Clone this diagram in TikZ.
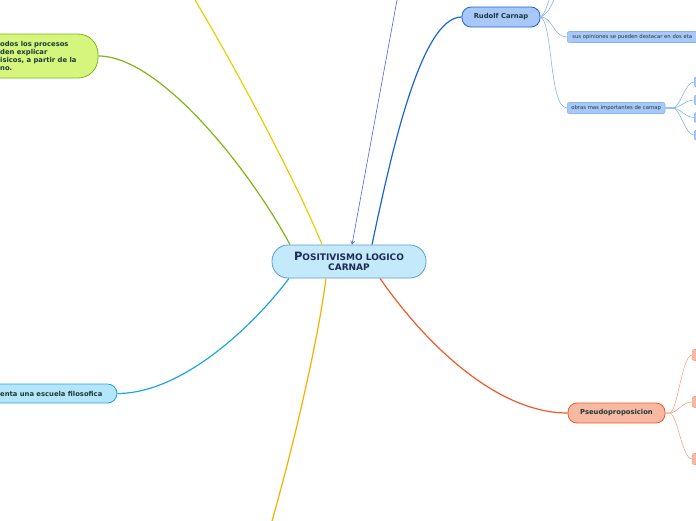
\documentclass[tikz,border=0pt]{standalone}
\usepackage{fontspec}
\setmainfont{DejaVu Sans}
\usetikzlibrary{arrows.meta}

\definecolor{rootfill}{HTML}{C4E9FB}
\definecolor{rootline}{HTML}{5A9BD5}
\definecolor{navy}{HTML}{1B2B55}
\definecolor{txtdark}{HTML}{1C3A36}
\definecolor{greenfill}{HTML}{D5F57D}
\definecolor{greenline}{HTML}{7DB712}
\definecolor{cyanfill}{HTML}{B4E6FB}
\definecolor{cyanline}{HTML}{1BA6E0}
\definecolor{yellowline}{HTML}{E8D000}
\definecolor{orangeline}{HTML}{F5B000}
\definecolor{redline}{HTML}{F05A28}
\definecolor{bluefill}{HTML}{A7C8F8}
\definecolor{blueline}{HTML}{1E63D6}
\definecolor{bluetwig}{HTML}{88B2F0}
\definecolor{arrowblue}{HTML}{4A64F0}
\definecolor{salmonfill}{HTML}{F8B9A2}
\definecolor{salmonline}{HTML}{EE5A2A}
\definecolor{salmontwig}{HTML}{F7A588}

\newcommand{\rootinitial}{{\fontsize{11.5}{10.5}\selectfont P}}

\begin{document}
\begin{tikzpicture}[x=1pt,y=-1pt,
    every node/.style={font=\bfseries\fontsize{6.8}{8}\selectfont,text=txtdark},
    topic/.style={draw,rounded corners=9pt,minimum height=20pt,line width=0.8pt},
    leaf/.style={draw,rounded corners=2pt,minimum height=11pt,inner xsep=4pt,inner ysep=1pt,
      line width=0.6pt,font=\fontsize{5.3}{6}\selectfont},
    branch/.style={line width=1.2pt},
    twig/.style={line width=0.6pt}]
  \useasboundingbox (0,0) rectangle (696,520);
  \clip (0,0) rectangle (696,520);

  % Nodes
  \node[draw=rootline,fill=rootfill,rounded corners=16pt,line width=0.8pt,minimum width=154pt,
    minimum height=33pt,align=center,text=navy,inner sep=0pt,
    font=\bfseries\fontsize{9}{10.5}\selectfont] (root) at (349,261.5)
    {\rootinitial OSITIVISMO LOGICO\\CARNAP};

  \node[draw=greenline,fill=greenfill,rounded corners=20pt,line width=0.8pt,
    minimum width=170pt,minimum height=44pt] (greenbox) at (13,56) {};
  \node[anchor=west,align=left,inner sep=0pt] (greentext) at (0,55.5)
    {odos los procesos\\den explicar\\isicos, a partir de la\\no.};

  \node[draw=cyanline,fill=cyanfill,rounded corners=9.5pt,line width=0.8pt,
    minimum width=190pt,minimum height=19pt] (cyanbox) at (22,393.5) {};
  \node[anchor=west,inner sep=0pt] (cyantext) at (0,393.5) {enta una escuela filosofica};

  \node[topic,draw=blueline,fill=bluefill,minimum width=78pt] (rudolf) at (501,17) {Rudolf Carnap};
  \node[leaf,draw=bluetwig,fill=bluefill,anchor=west,inner xsep=5pt] (opin) at (567,37)
    {sus opiniones se pueden destacar en dos eta};
  \node[leaf,draw=bluetwig,fill=bluefill,anchor=west] (obras) at (567,108)
    {obras mas importantes de carnap};
  \foreach \y [count=\i] in {82,100,117.5,135}
    \node[leaf,draw=bluetwig,fill=bluefill,anchor=west,minimum width=16pt,minimum height=10pt] (work\i) at (694,\y) {};

  \node[topic,draw=salmonline,fill=salmonfill,minimum width=97pt] (pseudo) at (616.5,413) {Pseudoproposicion};
  \foreach \y [count=\i] in {355,402,459}
    \node[leaf,draw=salmontwig,fill=salmonfill,anchor=west,minimum width=16pt,minimum height=11pt] (claim\i) at (692,\y) {};

  % Free ends at the edges
  \coordinate (yellowend) at (195,0);
  \coordinate (orangeend) at (272,521);
  \coordinate (arrowstart) at (397,0);
  \coordinate (upA) at (549,0);
  \coordinate (upB) at (554,0);

  % Branches from the root
  \draw[branch,greenline] ([xshift=-59pt]root.north) .. controls (250,170) and (160,56) .. (greenbox.east);
  \draw[branch,yellowline] ([xshift=-27pt]root.north) .. controls (300,190) and (240,75) .. (yellowend);
  \draw[branch,blueline] ([xshift=23pt]root.north) .. controls (390,160) and (420,17) .. (rudolf.west);
  \draw[branch,cyanline] ([xshift=-60pt]root.south) .. controls (250,330) and (180,393.5) .. (cyanbox.east);
  \draw[branch,orangeline] ([xshift=-23pt]root.south) .. controls (318,340) and (295,440) .. (orangeend);
  \draw[branch,redline] ([xshift=31pt]root.south) .. controls (430,350) and (500,413) .. (pseudo.west);
  \draw[twig,arrowblue,-{Straight Barb[length=3pt,width=4pt]}] (arrowstart) -- ([xshift=3pt]root.north);

  % Sub-branches
  \draw[twig,bluetwig] (rudolf.east) .. controls (545,14) and (547,6) .. (upA);
  \draw[twig,bluetwig] (rudolf.east) .. controls (548,14) and (551,6) .. (upB);
  \draw[twig,bluetwig] (rudolf.east) .. controls (553,17) and (553,37) .. (opin.west);
  \draw[twig,bluetwig] (rudolf.east) .. controls (553,22) and (549,108) .. (obras.west);
  \foreach \i in {1,...,4}
    \draw[twig,bluetwig] (obras.east) -- ++(7,0) .. controls +(8,0) and +(-9,0) .. (work\i.west);
  \foreach \i in {1,...,3}
    \draw[twig,salmontwig] (pseudo.east) -- ++(4,0) .. controls +(8,0) and +(-10,0) .. (claim\i.west);

\end{tikzpicture}
\end{document}
